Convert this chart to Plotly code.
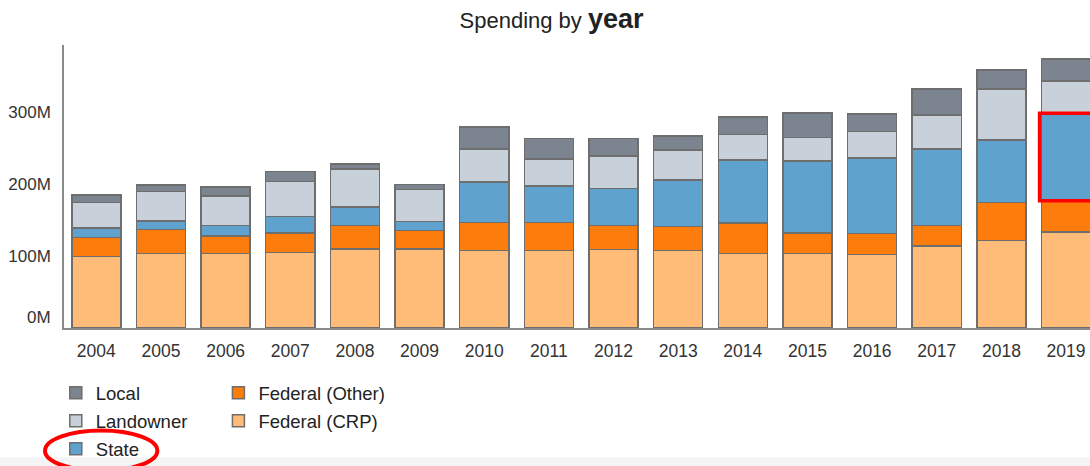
import plotly.graph_objects as go

years = [str(y) for y in range(2004, 2020)]

# Values in millions of dollars
federal_crp = [99.7, 104, 104, 105, 110, 110, 108, 108, 109, 108, 104, 104, 102.5, 114, 121.5, 133.5]
federal_other = [26, 33, 24, 27, 33, 26, 39, 39, 34, 33, 42, 28, 29, 29, 53, 43.5]
state = [13.5, 12, 15, 23, 25.5, 12, 56, 51, 51.5, 65, 88, 100.5, 105, 106.5, 87, 122]
landowner = [35.5, 41, 41, 49, 53, 44.5, 46, 37.5, 45, 41.5, 35.5, 33, 37, 47, 71, 45]
local = [10.7, 9, 12.5, 14, 6.5, 7, 31, 28, 24, 20, 24.5, 34, 24.5, 36, 26.5, 30.5]

y_tick_vals = [100, 200, 300]
y_tick_text = ["100M", "200M", "300M"]

# name, values, colour, legend, legend rank
series = [
    ("Federal (CRP)", federal_crp, "#ffbc79", "legend2", 2),
    ("Federal (Other)", federal_other, "#fc7d0b", "legend2", 1),
    ("State", state, "#5fa2ce", "legend", 3),
    ("Landowner", landowner, "#c8d0d9", "legend", 2),
    ("Local", local, "#7b848f", "legend", 1),
]

FONT = "Liberation Sans, Arial, sans-serif"

fig = go.Figure()
for name, vals, color, leg, rank in series:
    fig.add_trace(go.Bar(
        x=years, y=vals, name=name, legend=leg, legendrank=rank, legendgroup=name,
        marker=dict(color=color, line=dict(color="#6e6e6e", width=1.5)),
        hoverinfo="x+y+name",
    ))

# highlight box around 2019 State segment
base_2019 = federal_crp[-1] + federal_other[-1]
fig.add_shape(type="rect", xref="x", yref="y",
              x0=15 - 0.41, x1=15.7, y0=base_2019, y1=base_2019 + state[-1],
              line=dict(color="#ff0000", width=3.5), fillcolor="rgba(0,0,0,0)")

# ellipse around legend "State"
fig.add_shape(type="circle", xref="paper", yref="paper",
              x0=-0.0185, x1=0.091, y0=-0.362, y1=-0.505,
              line=dict(color="#ff0000", width=4), fillcolor="rgba(0,0,0,0)")

# light band at bottom
fig.add_shape(type="rect", xref="paper", yref="paper",
              x0=-0.1, x1=1.05, y0=-0.457, y1=-0.52,
              line=dict(width=0), fillcolor="#f4f4f4", layer="below")

fig.add_annotation(text="0M", xref="paper", yref="y", x=0, y=0,
                   xanchor="right", yanchor="middle", xshift=-11, yshift=11,
                   showarrow=False, font=dict(family=FONT, size=17, color="#333333"))

legend_common = dict(orientation="v", yanchor="top", xanchor="left",
                     traceorder="grouped", tracegroupgap=1,
                     font=dict(family=FONT, size=18.5, color="#222222"),
                     bgcolor="rgba(0,0,0,0)")

fig.update_layout(
    width=1090, height=466,
    margin=dict(l=63.5, r=0, t=45, b=137.5, autoexpand=False),
    paper_bgcolor="white", plot_bgcolor="white",
    barmode="stack", bargap=0.24,
    font=dict(family=FONT, size=17, color="#333333"),
    title=dict(
        text="Spending by <b><span style='font-size:27px'>year</span></b>",
        x=0.506, xanchor="center", xref="container",
        y=0.957, yanchor="middle", yref="container",
        font=dict(family=FONT, size=22, color="#222222"),
    ),
    xaxis=dict(type="category", range=[-0.5, 15.37], showgrid=False,
               showline=True, linecolor="#8a8a8a", linewidth=1.5,
               ticks="", ticklabelstandoff=6,
               tickfont=dict(family=FONT, size=17.5, color="#333333")),
    yaxis=dict(range=[0, 394], showgrid=False, zeroline=False,
               showline=True, linecolor="#8a8a8a", linewidth=1.5,
               tickvals=y_tick_vals, ticktext=y_tick_text, ticks="",
               ticklabelstandoff=8,
               tickfont=dict(family=FONT, size=17, color="#333333")),
    legend=dict(x=-0.008, y=-0.163, **legend_common),
    legend2=dict(x=0.1505, y=-0.163, **legend_common),
    showlegend=True,
)

fig.write_html("out.html")
